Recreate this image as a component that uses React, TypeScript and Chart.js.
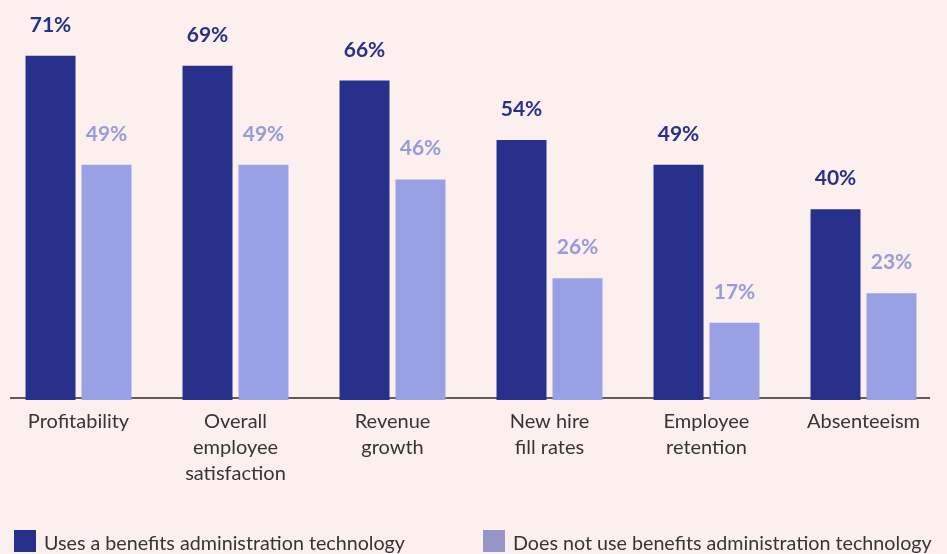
import React, { useEffect, useRef } from "react";
import { Chart, registerables } from "chart.js";

Chart.register(...registerables);

const categories: string[][] = [
  ["Profitability"],
  ["Overall", "employee", "satisfaction"],
  ["Revenue", "growth"],
  ["New hire", "fill rates"],
  ["Employee", "retention"],
  ["Absenteeism"],
];
const usesTech = [71, 69, 66, 54, 49, 40];
const noTech = [49, 49, 46, 26, 17, 23];
const seriesNames = [
  "Uses a benefits administration technology",
  "Does not use benefits administration technology",
];

const BG = "#fcf0ef";
const DARK = "#27308a";
const LIGHT = "#99a0e3";
const LIGHT_LABEL = "#979cd8";
const LEGEND_LIGHT = "#9696c6";
const TEXT = "#353535";
const FONT = "Lato, 'Noto Sans', sans-serif";

const bgPlugin = {
  id: "bg",
  beforeDraw(chart: any) {
    const { ctx, width, height } = chart;
    ctx.save();
    ctx.fillStyle = BG;
    ctx.fillRect(0, 0, width, height);
    ctx.restore();
  },
};

const axisLinePlugin = {
  id: "axisLine",
  beforeDatasetsDraw(chart: any) {
    const { ctx, chartArea } = chart;
    ctx.save();
    ctx.strokeStyle = "#2a2a2a";
    ctx.lineWidth = 1.5;
    ctx.beginPath();
    ctx.moveTo(10, chartArea.bottom - 2);
    ctx.lineTo(930, chartArea.bottom - 2);
    ctx.stroke();
    ctx.restore();
  },
};

const valueLabelPlugin = {
  id: "valueLabels",
  afterDatasetsDraw(chart: any) {
    const { ctx } = chart;
    ctx.save();
    ctx.font = `bold 21px ${FONT}`;
    ctx.textAlign = "center";
    ctx.textBaseline = "alphabetic";
    chart.data.datasets.forEach((ds: any, i: number) => {
      const meta = chart.getDatasetMeta(i);
      ctx.fillStyle = i === 0 ? DARK : LIGHT_LABEL;
      meta.data.forEach((bar: any, j: number) => {
        ctx.fillText(`${ds.data[j]}%`, bar.x, bar.y - 24);
      });
    });
    ctx.restore();
  },
};

const legendPlugin = {
  id: "customLegend",
  afterDraw(chart: any) {
    const { ctx } = chart;
    const items = [
      { x: 14, color: DARK, text: seriesNames[0] },
      { x: 483, color: LEGEND_LIGHT, text: seriesNames[1] },
    ];
    ctx.save();
    ctx.font = `19.7px ${FONT}`;
    ctx.textAlign = "left";
    ctx.textBaseline = "alphabetic";
    items.forEach((it) => {
      ctx.fillStyle = it.color;
      ctx.fillRect(it.x, 530, 22, 22);
      ctx.fillStyle = TEXT;
      ctx.fillText(it.text, it.x + 30, 550);
    });
    ctx.restore();
  },
};

export default function App() {
  const ref = useRef<HTMLCanvasElement>(null);
  useEffect(() => {
    if (!ref.current) return;
    const chart = new Chart(ref.current, {
      type: "bar",
      data: {
        labels: categories,
        datasets: [
          {
            label: seriesNames[0],
            data: usesTech,
            backgroundColor: DARK,
            categoryPercentage: 0.713,
            barPercentage: 0.893,
          },
          {
            label: seriesNames[1],
            data: noTech,
            backgroundColor: LIGHT,
            categoryPercentage: 0.713,
            barPercentage: 0.893,
          },
        ],
      },
      options: {
        animation: false,
        responsive: false,
        layout: { padding: { left: 0, right: 5, top: 0, bottom: 58 } },
        plugins: {
          legend: { display: false },
          tooltip: { enabled: false },
        },
        scales: {
          x: {
            grid: { display: false, drawTicks: false },
            border: { display: false },
            ticks: {
              autoSkip: false,
              maxRotation: 0,
              padding: 9,
              color: TEXT,
              font: { family: FONT, size: 20, lineHeight: "26px" } as any,
            },
          },
          y: {
            display: false,
            min: 1.4,
            max: 82.3,
          },
        },
      },
      plugins: [bgPlugin, axisLinePlugin, valueLabelPlugin, legendPlugin],
    });
    return () => chart.destroy();
  }, []);
  return (
    <div style={{ position: "absolute", left: 0, top: 0, width: 947, height: 554 }}>
      <canvas ref={ref} width={947} height={554} style={{ display: "block" }} />
    </div>
  );
}
